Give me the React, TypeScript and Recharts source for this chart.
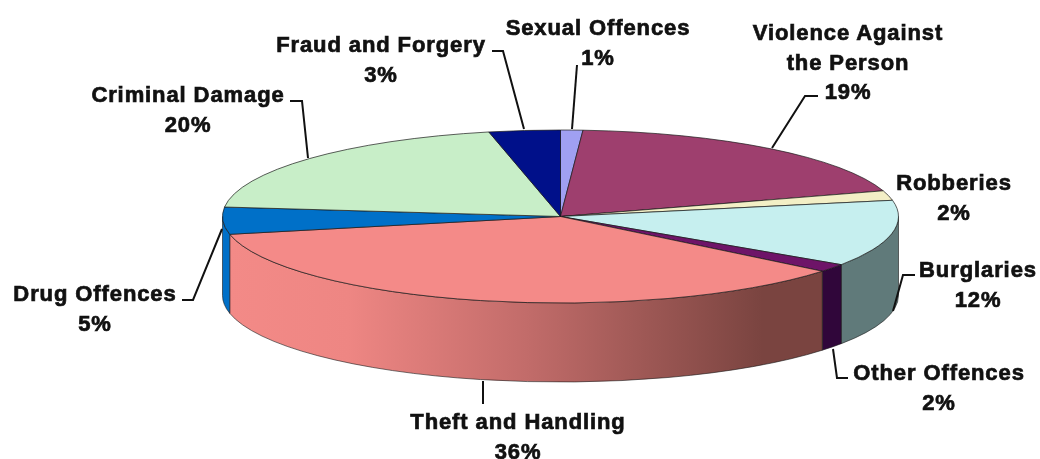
import { PieChart, Pie, Cell } from 'recharts';

const CATEGORIES = [
  'Sexual Offences',
  'Violence Against|the Person',
  'Robberies',
  'Burglaries',
  'Other Offences',
  'Theft and Handling',
  'Drug Offences',
  'Criminal Damage',
  'Fraud and Forgery',
];
const SHARES = [1.06, 19.14, 1.8, 12.4, 1.5, 35.8, 5.05, 19.85, 3.4];

const TOP_COLORS = ['#a0a0f2', '#9e3f6e', '#f3efc6', '#c6efef', '#6e1468', '#f48a88', '#0070c8', '#c8eec8', '#00108a'];
const WALL_COLORS = ['#6c6ca2', '#6a2a4a', '#a3a085', '#607a7a', '#30063a', 'url(#theftWall)', '#0070c8', '#86a086', '#000b5c'];

// label anchor (centre x, first baseline) and leader line for each slice
const LABEL_POS = [
  [598, 35], [848, 40], [954, 190], [978, 277], [939, 380], [518, 429], [95, 301], [188, 102], [381, 52],
];
const LEADERS = [
  '577,65 572,129',
  '818,96 805,96 772,148',
  '',
  '915,275 903,275 893,311',
  '848,378 837,378 833,349',
  '483,381 483,404',
  '182,300 193,300 222,229',
  '290,101 302,101 308,158',
  '492,51 503,51 524,129',
];

const CX = 560.5;
const CY = 216.5;
const RX = 338;
const RY = 86.5;
const DEPTH = 79;

const chartData = CATEGORIES.map((name, i) => ({ name, value: SHARES[i] }));

// c = degrees clockwise from 12 o'clock
const rimPoint = (c: number, dy = 0) => {
  const r = (c * Math.PI) / 180;
  return [CX + RX * Math.sin(r), CY - RY * Math.cos(r) + dy];
};

function Slice3D(props: any) {
  const { startAngle, endAngle, index } = props;
  const c0 = 90 - startAngle;
  const c1 = 90 - endAngle;
  const [x0, y0] = rimPoint(c0);
  const [x1, y1] = rimPoint(c1);
  const large = c1 - c0 > 180 ? 1 : 0;
  const top = `M${CX},${CY} L${x0},${y0} A${RX},${RY} 0 ${large} 1 ${x1},${y1} Z`;

  // only the front half of the rim has a visible side wall
  const w0 = Math.max(c0, 90);
  const w1 = Math.min(c1, 270);
  let wall = '';
  if (w1 > w0) {
    const [ax, ay] = rimPoint(w0);
    const [bx, by] = rimPoint(w1);
    wall = `M${ax},${ay} A${RX},${RY} 0 0 1 ${bx},${by} L${bx},${by + DEPTH} A${RX},${RY} 0 0 0 ${ax},${ay + DEPTH} Z`;
  }
  return (
    <g>
      {wall && <path d={wall} fill={WALL_COLORS[index]} stroke="#1a1a1a" strokeWidth={0.6} />}
      <path d={top} fill={TOP_COLORS[index]} stroke="#1a1a1a" strokeWidth={0.7} strokeLinejoin="round" />
    </g>
  );
}

function SliceLabel(props: any) {
  const { index, percent } = props;
  const [x, y] = LABEL_POS[index];
  const lines = [...CATEGORIES[index].split('|'), `${(percent * 100).toFixed(0)}%`];
  return (
    <g>
      {LEADERS[index] && <polyline points={LEADERS[index]} fill="none" stroke="#111" strokeWidth={2} />}
      <text
        x={x}
        y={y}
        textAnchor="middle"
        fontFamily="Liberation Sans, Arial, sans-serif"
        fontWeight="bold"
        fontSize={22}
        letterSpacing={0.9}
        fill="#111"
        stroke="#111"
        strokeWidth={0.7}
      >
        {lines.map((line, i) => (
          <tspan key={i} x={x} dy={i === 0 ? 0 : 29.5}>
            {line}
          </tspan>
        ))}
      </text>
    </g>
  );
}

export default function App() {
  return (
    <div style={{ position: 'absolute', left: 0, top: 0, width: 1040, height: 459, background: '#fff', filter: 'blur(0.5px)' }}>
      <PieChart width={1040} height={459} margin={{ top: 0, right: 0, bottom: 0, left: 0 }}>
        <defs>
          <linearGradient id="theftWall" gradientUnits="userSpaceOnUse" x1={230} y1={0} x2={822} y2={0}>
            <stop offset="0" stopColor="#f38a87" />
            <stop offset="0.2" stopColor="#ee8683" />
            <stop offset="0.5" stopColor="#c26c6a" />
            <stop offset="0.9" stopColor="#7a4440" />
            <stop offset="1" stopColor="#7a4440" />
          </linearGradient>
        </defs>
        <Pie
          data={chartData}
          dataKey="value"
          nameKey="name"
          cx={CX}
          cy={CY}
          outerRadius={RX}
          startAngle={90}
          endAngle={-270}
          isAnimationActive={false}
          shape={Slice3D}
          label={SliceLabel}
          labelLine={false}
        >
          {chartData.map((_, i) => (
            <Cell key={i} fill={TOP_COLORS[i]} />
          ))}
        </Pie>
      </PieChart>
    </div>
  );
}
